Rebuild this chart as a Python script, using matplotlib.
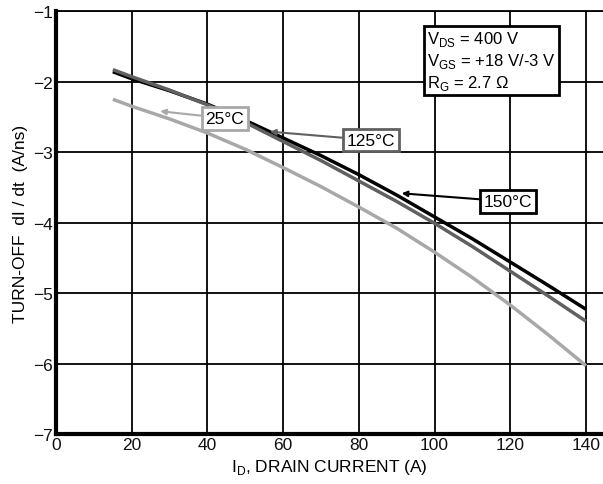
import matplotlib
matplotlib.use("Agg")
import matplotlib.pyplot as plt

plt.rcParams['font.family'] = ['Liberation Sans', 'DejaVu Sans']

# Drain current (A)
drain_current = [15, 20, 30, 40, 50, 60, 70, 80, 90, 100, 110, 120, 130, 140]

# Turn-off dI/dt (A/ns) per junction temperature
didt_150c = [-1.86, -1.96, -2.13, -2.32, -2.55, -2.80, -3.05, -3.32, -3.61, -3.92, -4.23, -4.56, -4.89, -5.23]
didt_125c = [-1.83, -1.93, -2.12, -2.33, -2.58, -2.85, -3.12, -3.41, -3.70, -4.01, -4.34, -4.69, -5.04, -5.40]
didt_25c = [-2.25, -2.35, -2.53, -2.73, -2.96, -3.22, -3.49, -3.78, -4.08, -4.42, -4.78, -5.17, -5.59, -6.03]

x_ticks = [0, 20, 40, 60, 80, 100, 120, 140]
y_ticks = [-7, -6, -5, -4, -3, -2, -1]

c150 = '#000000'
c125 = '#606060'
c25 = '#a8a8a8'

fig = plt.figure(figsize=(6.03, 4.85), dpi=100)
ax = fig.add_axes([0.093, 0.103, 0.907, 0.872])

ax.plot(drain_current, didt_25c, color=c25, lw=2.5, solid_capstyle='butt', zorder=3)
ax.plot(drain_current, didt_150c, color=c150, lw=2.5, solid_capstyle='butt', zorder=4)
ax.plot(drain_current, didt_125c, color=c125, lw=2.5, solid_capstyle='butt', zorder=5)

ax.set_xlim(0, 144.5)
ax.set_ylim(-7, -1)
ax.set_xticks(x_ticks)
ax.set_yticks(y_ticks)
ax.set_xticklabels([str(v) for v in x_ticks])
ax.set_yticklabels(['\u2212' + str(-v) for v in y_ticks])
ax.tick_params(length=0, labelsize=12.5, pad=2, colors='#111111')
ax.grid(True, color='black', lw=1.3)
ax.set_axisbelow(True)

for side in ['left', 'bottom']:
    ax.spines[side].set_linewidth(3)
ax.spines['top'].set_linewidth(1.3)
ax.spines['right'].set_visible(False)

ax.set_xlabel('I$_\\mathregular{D}$, DRAIN CURRENT (A)', fontsize=12.5, labelpad=4)
ax.set_ylabel('TURN-OFF  dI / dt  (A/ns)', fontsize=12.5, labelpad=4)


def tag(text, xy, xytext, color):
    ax.annotate(text, xy=xy, xytext=xytext, fontsize=12.5, ha='center', va='center',
                bbox=dict(boxstyle='square,pad=0.22', fc='white', ec=color, lw=2),
                arrowprops=dict(arrowstyle='-|>', color=color, lw=1.5,
                                mutation_scale=8, shrinkA=0, shrinkB=0),
                zorder=6)


tag('25°C', (27.5, -2.42), (44.6, -2.52), c25)
tag('125°C', (56.5, -2.71), (83.2, -2.83), c125)
tag('150°C', (91.3, -3.585), (119.4, -3.70), c150)

cond = ('V$_\\mathregular{DS}$ = 400 V\n'
        'V$_\\mathregular{GS}$ = +18 V/-3 V\n'
        'R$_\\mathregular{G}$ = 2.7 \u03a9')
fig.text(427 / 603, 1 - 30 / 485, cond, fontsize=12, linespacing=1.22,
         ha='left', va='top', zorder=7,
         bbox=dict(boxstyle='square,pad=0.2', fc='white', ec='black', lw=2))

fig.savefig('out.png', dpi=100)
